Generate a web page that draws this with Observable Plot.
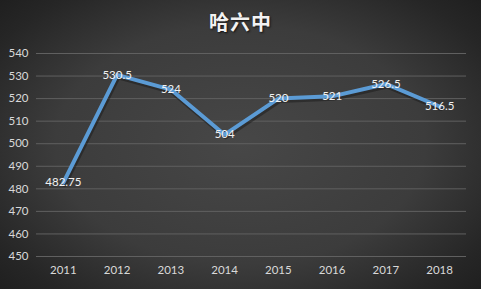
<!DOCTYPE html>
<html><head><meta charset="utf-8">
<script src="https://cdn.jsdelivr.net/npm/d3@7"></script>
<script src="https://cdn.jsdelivr.net/npm/@observablehq/plot@0.6"></script>
<style>
html,body{margin:0;padding:0;}
#chart{width:481px;height:289px;position:relative;overflow:hidden;
background:radial-gradient(ellipse 70% 75% at 50% 50%, #474747 0%, #3c3c3c 55%, #262626 85%, #1e1e1e 100%);}
#title{height:40px;line-height:43px;text-align:center;color:#f2f2f2;font-family:"Noto Sans CJK SC",sans-serif;font-weight:bold;font-size:20px;letter-spacing:1px;text-shadow:1px 1px 2px #111;}
svg{display:block;}
</style>
</head><body>
<div id="chart"><div id="title">哈六中</div></div>
<script>
const years = ["2011","2012","2013","2014","2015","2016","2017","2018"];
const scores = [482.75, 530.5, 524, 504, 520, 521, 526.5, 516.5];
const labels = ["482.75","530.5","524","504","520","521","526.5","516.5"];
const yTicks = [450,460,470,480,490,500,510,520,530,540];
const data = years.map((y,i)=>({year:y, score:scores[i], label:labels[i]}));
const plot = Plot.plot({
  width:481, height:249,
  marginTop:13, marginBottom:33, marginLeft:36, marginRight:15,
  style:{background:"transparent", color:"#d9d9d9", fontFamily:"Lato, 'Open Sans', sans-serif", fontSize:"11.5px"},
  x:{type:"point", domain:years, padding:0.5, round:false, label:null, tickSize:0, tickPadding:9},
  y:{domain:[450,540], ticks:yTicks, label:null, tickSize:0, tickPadding:8},
  marks:[
    Plot.ruleY(yTicks,{stroke:"#606060", strokeWidth:1}),
    Plot.line(data,{x:"year", y:"score", stroke:"#1a1a1a", strokeWidth:5, strokeOpacity:0.5, dx:1, dy:2}),
    Plot.line(data,{x:"year", y:"score", stroke:"#5b9bd5", strokeWidth:4}),
    Plot.text(data,{x:"year", y:"score", text:"label", fill:"#f2f2f2", fontSize:11.5})
  ]
});
document.getElementById("chart").appendChild(plot);
</script>
</body></html>
